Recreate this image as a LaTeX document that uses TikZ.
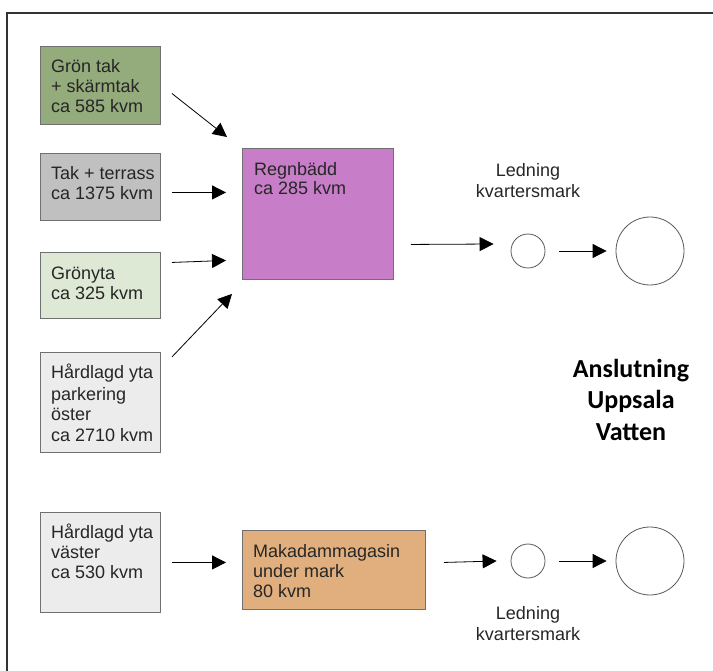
\documentclass[tikz,border=0pt]{standalone}
\usepackage{fontspec}
\setmainfont{Liberation Sans}
\newfontfamily\carlito{Carlito}
\usetikzlibrary{arrows.meta,calc}
\definecolor{gtak}{HTML}{94AB7C}
\definecolor{tak}{HTML}{C0C0C0}
\definecolor{gyta}{HTML}{DDE9D4}
\definecolor{hard}{HTML}{ECECEC}
\definecolor{regn}{HTML}{C77DC7}
\definecolor{maka}{HTML}{E1AF7E}
\definecolor{edge}{HTML}{707070}
\tikzset{
  box/.style={draw=edge, line width=0.9pt, rectangle, inner sep=0pt, anchor=north west},
  txt/.style={anchor=base west, inner sep=0pt, align=left, font=\fontsize{18}{20}\selectfont, text=black!85},
  lbl/.style={anchor=base, inner sep=0pt, align=center, font=\fontsize{18}{21}\selectfont, text=black!85},
  pipe/.style={draw=black!65, line width=0.8pt, circle, inner sep=0pt},
  flow/.style={line width=0.8pt, -{Triangle[length=14pt,width=14pt]}},
}
\begin{document}
\begin{tikzpicture}[x=1pt,y=-1pt]
\useasboundingbox (0,0) rectangle (713,671);
% frame (top and left edges visible)
\draw[line width=2pt, black!80] (7,671) -- (7,13) -- (713,13);

% source boxes
\node[box, fill=gtak, minimum width=120pt, minimum height=78pt] (g1) at (40,46) {};
\node[box, fill=tak,  minimum width=120pt, minimum height=67pt] (g2) at (40,153) {};
\node[box, fill=gyta, minimum width=120pt, minimum height=66pt] (g3) at (40,252) {};
\node[box, fill=hard, minimum width=120pt, minimum height=100pt] (g4) at (40,352) {};
\node[box, fill=hard, minimum width=120pt, minimum height=100pt] (g5) at (40,512) {};
\node[box, fill=regn, minimum width=151pt, minimum height=131pt] (rb) at (242,148) {};
\node[box, fill=maka, minimum width=183pt, minimum height=79pt] (mk) at (242,530) {};

% texts (anchored at the baseline of the last line)
\node[txt] (t1) at (51,113) {Grön tak\\+ skärmtak\\ca 585 kvm};
\node[txt] (t2) at (51,200) {Tak + terrass\\ca 1375 kvm};
\node[txt] (t3) at (51,300) {Grönyta\\ca 325 kvm};
\node[txt, font=\fontsize{18}{21}\selectfont] (t4) at (51,442) {Hårdlagd yta\\parkering\\öster\\ca 2710 kvm};
\node[txt] (t5) at (51,578) {Hårdlagd yta\\väster\\ca 530 kvm};
\node[txt, font=\fontsize{18}{19}\selectfont] (trb) at (254,195) {Regnbädd\\ca 285 kvm};
\node[txt] (tmk) at (253,597) {Makadammagasin\\under mark\\80 kvm};

% pipes
\node[pipe, minimum size=34pt] (c1) at (528,251) {};
\node[pipe, minimum size=68pt] (C1) at (650,251) {};
\node[pipe, minimum size=34pt] (c2) at (528,561) {};
\node[pipe, minimum size=68pt] (C2) at (650,561) {};

\node[lbl] (l1) at (528,198) {Ledning\\kvartersmark};
\node[lbl] (l2) at (528,640) {Ledning\\kvartersmark};

\node[anchor=base, inner sep=0pt, align=center, font=\carlito\bfseries\fontsize{26}{31.5}\selectfont] (av) at (631,440) {Anslutning\\Uppsala\\Vatten};

% flows
\draw[flow] ($(g1.east)+(11,8)$) -- ($(rb.north west)+(-15,-11)$);
\draw[flow] ($(g2.east)+(11,5.5)$) -- ($(rb.west)+(-16,-21.5)$);
\draw[flow] ($(g3.east)+(11,-23)$) -- ($(rb.west)+(-16,46.5)$);
\draw[flow] ($(g4.north east)+(11,5)$) -- ($(rb.south west)+(-10,14)$);
\draw[flow] ($(rb.east)+(17,30.5)$) -- ($(c1.west)+(-17,-7)$);
\draw[flow] ($(c1.east)+(14,0)$) -- ($(C1.west)+(-9,0)$);
\draw[flow] ($(g5.east)+(11,0)$) -- ($(mk.west)+(-16,-7.5)$);
\draw[flow] ($(mk.east)+(18,-7.5)$) -- ($(c2.west)+(-14,0)$);
\draw[flow] ($(c2.east)+(14,0)$) -- ($(C2.west)+(-9,0)$);
\end{tikzpicture}
\end{document}
